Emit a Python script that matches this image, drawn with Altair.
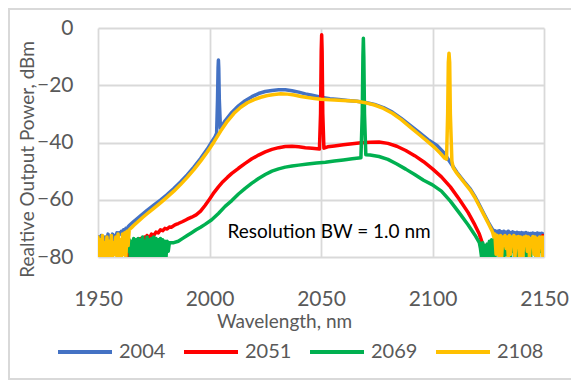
import altair as alt
import pandas as pd

SERIES = ["2004", "2051", "2069", "2108"]
COLORS = ["#4472C4", "#FF0000", "#00B050", "#FFC000"]
X_TICKS = [1950, 2000, 2050, 2100, 2150]
Y_TICKS = [-80, -60, -40, -20, 0]
NOTE = "Resolution BW = 1.0 nm"
NOTE_WL = [2053.6]
NOTE_DB = [-73.4]

# ---- 2004 nm (blue) ----
B_WL = [1950.0, 1950.5, 1951.0, 1951.5, 1952.0, 1952.5, 1953.0, 1953.5, 1954.0, 1954.5,
        1955.0, 1955.5, 1956.0, 1956.5, 1957.0, 1957.5, 1958.0, 1958.5, 1959.0, 1959.5,
        1960.0, 1960.5, 1961.0, 1961.5, 1962.0, 1962.5, 1963.0, 1963.5, 1964.0,
        1965, 1966, 1968, 1970, 1972, 1975, 1978, 1981, 1984, 1987, 1990, 1993, 1996, 1999,
        2001, 2002.5, 2003.2, 2003.6, 2003.85, 2004.0, 2004.15, 2004.4, 2004.9, 2005.5,
        2007, 2010, 2013, 2016, 2019, 2022, 2025, 2028, 2031, 2034, 2037, 2040, 2043, 2046,
        2050, 2054, 2058, 2062, 2066, 2070, 2074, 2078, 2082, 2086, 2090, 2094, 2098, 2102,
        2105, 2108, 2111, 2114, 2117, 2119, 2121, 2123, 2125, 2126.5,
        2127.0, 2127.5, 2128.0, 2128.5, 2129.0, 2129.5, 2130.0, 2130.5, 2131.0, 2131.5,
        2132.0, 2132.5, 2133.0, 2133.5, 2134.0, 2134.5, 2135.0, 2135.5, 2136.0, 2136.5,
        2137.0, 2137.5, 2138.0, 2138.5, 2139.0, 2139.5, 2140.0, 2140.5, 2141.0, 2141.5,
        2142.0, 2142.5, 2143.0, 2143.5, 2144.0, 2144.5, 2145.0, 2145.5, 2146.0, 2146.5,
        2147.0, 2147.5, 2148.0, 2148.5, 2149.0, 2149.5, 2150.0]
B_DB = [-74, -73, -75, -72.5, -74, -73, -76, -73, -74, -72,
        -75, -73, -74, -72, -74, -72.5, -73, -71.5, -73, -71.5,
        -72, -71, -72, -70.5, -71, -70, -70.5, -69.5, -69,
        -68.3, -67.6, -66.3, -65, -63.7, -61.9, -60.1, -58.2, -56.1, -53.8, -51.3, -48.6, -45.6, -42.3,
        -39.8, -38, -36.8, -25, -14, -11.2, -14, -25, -35, -34.4,
        -32.4, -29.5, -27.2, -25.4, -24, -22.9, -22.2, -21.8, -21.6, -21.6, -21.9, -22.4, -23, -23.5,
        -24.2, -24.7, -25.0, -25.3, -25.6, -26.0, -26.7, -27.8, -29.4, -31.6, -34, -36.5, -39, -41,
        -43.5, -47, -50.5, -53.5, -56.3, -58.8, -61.8, -64.8, -67.8, -69.8,
        -70.5, -71.5, -70.8, -72, -71, -72.5, -70.8, -71.8, -71.2, -72.5,
        -71, -72, -71.3, -72.8, -71, -72, -71.5, -72.5, -71.2, -72.2,
        -71.5, -73, -71.4, -72.3, -71.6, -72.5, -71.5, -73, -71.6, -72.5,
        -71.5, -72.6, -71.7, -73, -71.8, -72.4, -71.6, -72.8, -71.8, -72.5,
        -71.6, -73, -71.8, -72.5, -71.7, -72.6, -72]

# ---- 2051 nm (red) ----
R_WL = [1963.5, 1964.0, 1964.5, 1965.0, 1965.5, 1966.0, 1966.5, 1967.0, 1967.5, 1968.0,
        1968.5, 1969.0, 1969.5, 1970.0, 1970.5, 1971.0, 1971.5, 1972, 1973, 1974, 1975,
        1976, 1977, 1978, 1979, 1980, 1981, 1982, 1983, 1984, 1985, 1986, 1988, 1990, 1992,
        1994, 1996, 1998, 2000, 2002, 2004, 2006, 2008, 2010, 2013, 2016, 2019, 2022, 2025,
        2028, 2031, 2034, 2037, 2040, 2043, 2046, 2049.3, 2049.8, 2050.1, 2050.3, 2050.5,
        2050.8, 2051.3, 2053, 2056, 2060, 2064, 2068, 2072, 2076, 2080, 2084, 2088, 2092,
        2096, 2100, 2104, 2108, 2112, 2116, 2119, 2121, 2122.5, 2123.5, 2124, 2125, 2126,
        2127, 2128, 2130, 2132, 2134, 2136, 2138, 2140, 2142, 2144, 2146, 2148, 2149,
        2149.5, 2150]
R_DB = [-80, -76, -79, -75.5, -77.5, -75, -78, -74.5, -76, -74,
        -76.5, -73.5, -75, -73.5, -75.5, -73, -74.5, -72.5, -73.5, -72, -72.5,
        -71.3, -71.6, -70.5, -70.8, -70, -70.2, -69.5, -69.6, -69, -68.6, -68.3, -67.6, -66.8, -66.1,
        -65.3, -64, -62, -59.8, -57.5, -55.5, -53.7, -52.2, -50.8, -49, -47.3, -45.7, -44.4, -43.3,
        -42.4, -41.8, -41.4, -41.3, -41.5, -41.8, -42, -42.3, -30, -8, -2.4, -8,
        -30, -42, -41.5, -41.2, -40.8, -40.4, -40.1, -39.9, -39.8, -40.3, -41.3, -42.8, -44.6,
        -46.7, -49.2, -52, -55.5, -59.8, -64.5, -68.8, -72, -75.5, -80, -77, -79, -76,
        -80, -76.5, -78, -76, -79, -76, -80, -76.5, -78, -76, -79, -75.5, -73,
        -72.5, -74]

# ---- 2069 nm (green) ----
G_WL = [1963.5, 1964.0, 1964.5, 1965.0, 1965.5, 1966.0, 1966.5, 1967.0, 1967.5, 1968.0,
        1968.5, 1969.0, 1969.5, 1970.0, 1970.5, 1971.0, 1971.5, 1972.0, 1972.5, 1973.0,
        1973.5, 1974.0, 1974.5, 1975.0, 1975.5, 1976.0, 1976.5, 1977.0, 1977.5, 1978.0,
        1978.5, 1979.0, 1979.5, 1980.0, 1980.5, 1981.0, 1981.5, 1982.0,
        1984, 1986, 1988, 1990, 1992, 1994, 1996, 1998, 2001, 2004, 2007, 2010, 2013, 2016,
        2019, 2022, 2025, 2028, 2031, 2034, 2037, 2040, 2044, 2048, 2052, 2056, 2060, 2064,
        2067.9, 2068.5, 2068.8, 2069.0, 2069.2, 2069.5, 2070.1, 2072, 2076, 2080, 2084, 2088,
        2092, 2096, 2100, 2104, 2108, 2112, 2116, 2119, 2121,
        2121.5, 2122.0, 2122.5, 2123.0, 2123.5, 2124.0, 2124.5, 2125.0, 2125.5, 2126.0,
        2126.5, 2127.0, 2127.5, 2128.0, 2128.5, 2129.0, 2129.5, 2130.0, 2130.5, 2131.0,
        2131.5, 2132.0, 2132.5, 2133.0, 2133.5, 2134.0, 2134.5, 2135.0, 2135.5, 2136.0,
        2136.5, 2137.0, 2137.5, 2138.0, 2138.5, 2139.0, 2139.5, 2140.0, 2140.5, 2141.0,
        2141.5, 2142.0, 2142.5, 2143.0, 2143.5, 2144.0, 2144.5, 2145.0, 2146.0, 2146.5,
        2147.0, 2147.5, 2148.0, 2148.5, 2149.0, 2149.5, 2150.0]
G_DB = [-78, -74, -80, -74.5, -80, -73.5, -80, -74, -80, -73.5,
        -80, -74, -80, -73, -80, -74.5, -80, -73, -80, -74,
        -80, -73.5, -80, -73, -80, -73.5, -80, -74, -80, -73.5,
        -80, -74, -80, -74.5, -80, -74.5, -78, -75,
        -75, -74.5, -73.5, -72.5, -71.5, -70.5, -69.6, -68.6, -67, -64.8, -62.3, -60.3, -58, -56,
        -54.2, -52.6, -51.2, -50, -49.2, -48.6, -48.2, -47.9, -47.5, -47.2, -46.9, -46.5, -46.1, -45.7,
        -45.3, -30, -10, -3.6, -10, -30, -44.3, -44.4, -44.9, -45.9, -47.5, -49.3,
        -51.2, -53.2, -54.8, -57, -60.5, -64.6, -68.8, -72.3, -75,
        -77, -80, -75, -80, -76, -80, -75.5, -80, -74.5, -80,
        -74, -80, -74, -80, -74.5, -78, -74, -80, -74.5, -78,
        -74, -80, -74.5, -79, -74, -80, -74.5, -80, -74.5, -78,
        -74, -80, -74.5, -80, -74.5, -79, -74.5, -80, -75, -78,
        -74.5, -80, -75, -78, -75, -80, -75, -78, -75, -80,
        -75, -80, -75, -78, -75, -79, -75]

# ---- 2108 nm (yellow) ----
Y_WL = [1950.0, 1950.5, 1951.0, 1951.5, 1952.0, 1952.5, 1953.0, 1953.5, 1954.0, 1954.5,
        1955.0, 1955.5, 1956.0, 1956.5, 1957.0, 1957.5, 1958.0, 1958.5, 1959.0, 1959.5,
        1960.0, 1960.5, 1961.0, 1961.5, 1962.0, 1962.5, 1963.0, 1963.5, 1964.0,
        1965, 1966, 1968, 1970, 1972, 1975, 1978, 1981, 1984, 1987, 1990, 1993, 1996, 1999,
        2002, 2005, 2008, 2011, 2014, 2017, 2020, 2023, 2026, 2029, 2032, 2035, 2038, 2041,
        2044, 2047, 2050, 2054, 2058, 2062, 2066, 2070, 2074, 2078, 2082, 2086, 2090, 2094,
        2098, 2101, 2103.5, 2105.5, 2106.3, 2106.8, 2107.1, 2107.4, 2107.7, 2108.0, 2108.7,
        2109.3, 2111, 2114, 2117, 2119, 2121, 2123, 2125, 2126,
        2126.5, 2127.0, 2127.5, 2128.0, 2128.5, 2129.0, 2129.5, 2130.0, 2130.5, 2131.0,
        2131.5, 2132.0, 2132.5, 2133.0, 2133.5, 2134.0, 2134.5, 2135.0, 2135.5, 2136.0,
        2136.5, 2137.0, 2137.5, 2138.0, 2138.5, 2139.0, 2139.5, 2140.0, 2140.5, 2141.0,
        2141.5, 2142.0, 2142.5, 2143.0, 2143.5, 2144.0, 2144.5, 2145.0, 2145.5, 2146.0,
        2146.5, 2147.0, 2147.5, 2148.0, 2148.5, 2149.0, 2149.5, 2150.0]
Y_DB = [-73, -80, -74, -80, -72.5, -80, -75, -80, -73, -80,
        -74.5, -80, -72.5, -80, -75, -79, -73, -80, -72, -80,
        -74, -80, -72, -79, -71.5, -80, -71, -76, -70.5,
        -69.8, -69, -67.6, -66.2, -64.9, -63, -61.1, -59.1, -57, -54.7, -52.2, -49.5, -46.5, -43.3,
        -39.8, -36, -32.6, -29.8, -27.7, -26.1, -25, -24.2, -23.6, -23.2, -23, -23.1, -23.4, -23.9,
        -24.3, -24.6, -24.9, -25.1, -25.2, -25.4, -25.6, -26.1, -26.9, -28.1, -29.8, -32, -34.6, -37.2,
        -39.8, -41.8, -43.8, -45.5, -45.8, -30, -12, -8.8, -12, -30, -46.5,
        -48.8, -50.8, -53.8, -56.7, -59.2, -62.2, -65.2, -68.2, -69.8,
        -70.5, -71.5, -73, -72, -79, -72.5, -74, -80, -72.5, -80,
        -73, -76, -72.5, -77, -73, -80, -72.5, -79, -73, -75,
        -72.5, -80, -73, -76, -72.8, -80, -73, -77, -80, -73,
        -75, -72.8, -78, -73, -80, -73.5, -76, -72.8, -79, -73,
        -80, -73.5, -80, -73, -76, -73, -80, -73]

SPECTRA = [(SERIES[0], B_WL, B_DB), (SERIES[1], R_WL, R_DB),
           (SERIES[2], G_WL, G_DB), (SERIES[3], Y_WL, Y_DB)]

FONT = "Lato"
GREY = "#595959"

x_scale = alt.Scale(domain=[1950, 2150], nice=False, zero=False)
y_scale = alt.Scale(domain=[-80, 0], nice=False, zero=False)
color_scale = alt.Scale(domain=SERIES, range=COLORS)

x_axis = alt.Axis(values=X_TICKS, title="Wavelength, nm", format="d", labelFlush=False,
                  labelPadding=48, labelBaseline="alphabetic", tickSize=0,
                  titleX=186, titleY=70, titleBaseline="alphabetic", titleAlign="center")
y_axis = alt.Axis(values=Y_TICKS, title="Realtive Output Power, dBm", format="d",
                  labelFlush=False,
                  labelPadding=25, labelBaseline="middle", tickSize=0,
                  titleX=-65, titleY=131, titleBaseline="alphabetic", titleAlign="center",
                  titleAngle=270)
legend = alt.Legend(orient="none", legendX=-42, legendY=295, direction="horizontal",
                    title=None, symbolType="stroke", symbolSize=2916, symbolStrokeWidth=4,
                    labelFont=FONT, labelFontSize=20, labelColor=GREY, labelOffset=5,
                    columnPadding=10, padding=0, columns=4)

layers = []
frame_df = pd.DataFrame({"k": [0]})
layers.append(alt.Chart(frame_df).mark_rect(filled=False, stroke="#d9d9d9", strokeWidth=2,
                                            clip=False).encode(
    x=alt.value(-89), x2=alt.value(700), y=alt.value(-19), y2=alt.value(351)))

for name, wl, db in SPECTRA:
    df = pd.DataFrame({"wl": wl, "db": db, "series": name})
    layers.append(
        alt.Chart(df).mark_line(strokeWidth=3.5, clip=True, strokeJoin="round",
                                strokeCap="round").encode(
            x=alt.X("wl:Q", scale=x_scale, axis=x_axis),
            y=alt.Y("db:Q", scale=y_scale, axis=y_axis),
            color=alt.Color("series:N", scale=color_scale, legend=legend),
        )
    )

note_df = pd.DataFrame({"wl": NOTE_WL, "db": NOTE_DB, "t": [NOTE]})
layers.append(alt.Chart(note_df).mark_text(font=FONT, fontSize=19, color="#000000",
                                           baseline="alphabetic", align="center").encode(
    x=alt.X("wl:Q", scale=x_scale, axis=x_axis),
    y=alt.Y("db:Q", scale=y_scale, axis=y_axis),
    text="t:N"))

chart = alt.layer(*layers).properties(
    width=446, height=229,
    background="white",
    padding={"left": 90, "top": 20, "right": 27, "bottom": 125},
    autosize=alt.AutoSizeParams(type="none"),
).configure_view(stroke=None).configure_axis(
    grid=True, gridColor="#d9d9d9", gridWidth=1.8, domain=False, ticks=False,
    labelFont=FONT, labelFontSize=21, labelColor=GREY,
    titleFont=FONT, titleFontSize=19, titleColor=GREY, titleFontWeight="normal",
)

chart.save("out.html", embed_options={"renderer": "svg", "actions": False})
